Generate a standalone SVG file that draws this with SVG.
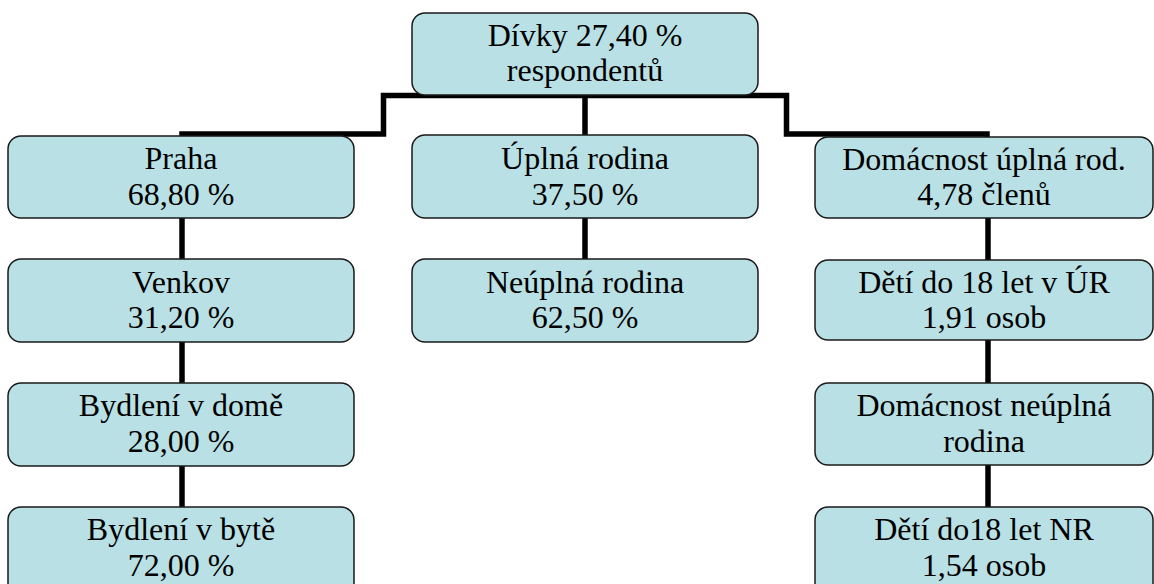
<svg xmlns="http://www.w3.org/2000/svg" width="1154" height="584" viewBox="0 0 1154 584">
<style>
.box{fill:#b9e0e4;stroke:#1a1a1a;stroke-width:1.5}
.t{font-family:"Liberation Serif","Times New Roman",serif;font-size:32px;fill:#000;text-anchor:middle}
.c{fill:none;stroke:#000;stroke-width:5.5;stroke-linejoin:miter}
</style>
<rect width="1154" height="584" fill="#fff"/>
<g id="connectors">
<path class="c" d="M182,137 V134 H383.5 V95.5 H786.5 V134 H987 V138"/>
<path class="c" d="M585,95 V136"/>
<path class="c" d="M182,218 V259"/>
<path class="c" d="M182,342 V383"/>
<path class="c" d="M182,466 V507"/>
<path class="c" d="M585,218 V259"/>
<path class="c" d="M988,218 V260"/>
<path class="c" d="M988,340 V383"/>
<path class="c" d="M988,465 V507"/>
</g>
<g id="n0"><rect class="box" x="412" y="13" width="346" height="82" rx="13"/><text class="t" x="585" y="46">Dívky 27,40 %</text><text class="t" x="585" y="81">respondentů</text></g>
<g id="n1"><rect class="box" x="8" y="136" width="346" height="82" rx="13"/><text class="t" x="181" y="169">Praha</text><text class="t" x="181" y="205">68,80 %</text></g>
<g id="n2"><rect class="box" x="8" y="259" width="346" height="83" rx="13"/><text class="t" x="181" y="293">Venkov</text><text class="t" x="181" y="328">31,20 %</text></g>
<g id="n3"><rect class="box" x="8" y="383" width="346" height="83" rx="13"/><text class="t" x="181" y="416">Bydlení v domě</text><text class="t" x="181" y="452">28,00 %</text></g>
<g id="n4"><rect class="box" x="8" y="507" width="346" height="90" rx="13"/><text class="t" x="181" y="540">Bydlení v bytě</text><text class="t" x="181" y="576">72,00 %</text></g>
<g id="n5"><rect class="box" x="412" y="135" width="346" height="83" rx="13"/><text class="t" x="585" y="169">Úplná rodina</text><text class="t" x="585" y="205">37,50 %</text></g>
<g id="n6"><rect class="box" x="412" y="259" width="346" height="83" rx="13"/><text class="t" x="585" y="293">Neúplná rodina</text><text class="t" x="585" y="328">62,50 %</text></g>
<g id="n7"><rect class="box" x="815" y="137" width="338" height="81" rx="13"/><text class="t" x="984" y="170">Domácnost úplná rod.</text><text class="t" x="984" y="205">4,78 členů</text></g>
<g id="n8"><rect class="box" x="815" y="260" width="338" height="80" rx="13"/><text class="t" x="984" y="293">Dětí do 18 let v ÚR</text><text class="t" x="984" y="328">1,91 osob</text></g>
<g id="n9"><rect class="box" x="815" y="383" width="338" height="82" rx="13"/><text class="t" x="984" y="416">Domácnost neúplná</text><text class="t" x="984" y="452">rodina</text></g>
<g id="n10"><rect class="box" x="815" y="507" width="338" height="90" rx="13"/><text class="t" x="984" y="540">Dětí do18 let NR</text><text class="t" x="984" y="576">1,54 osob</text></g>
</svg>
